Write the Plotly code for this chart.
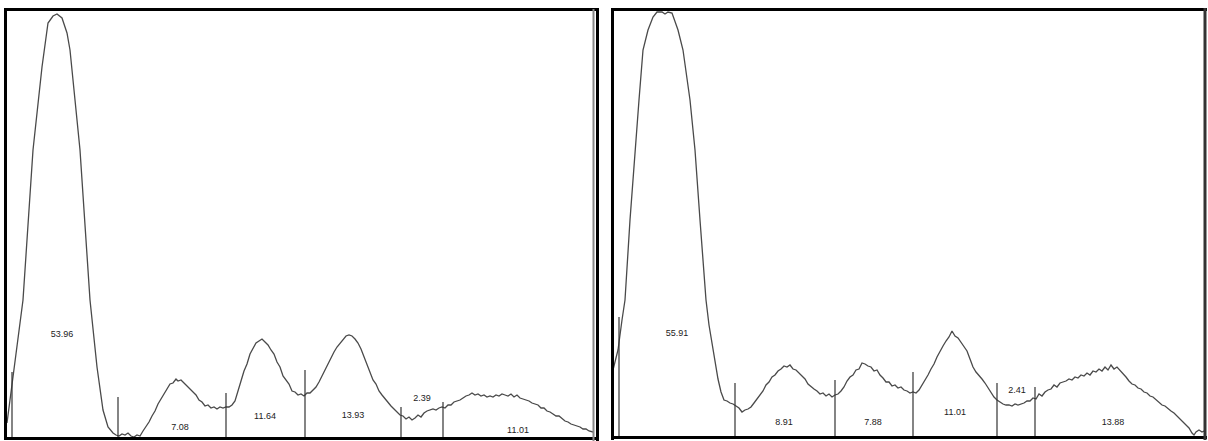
import plotly.graph_objects as go

W, H = 1208, 441

# ---------------- Data (position units along strip, absorbance units) ----------------
left_x = [1, 6, 10, 17, 27, 36, 42, 47, 51, 56, 61, 64, 69, 74, 84, 91, 97, 102,
          107, 110, 113, 116, 119, 122, 125, 128, 131, 134, 137, 140, 143, 146, 149, 152, 155, 158, 161, 164,
          167, 170, 172, 175, 178, 181, 184, 187, 190, 193, 196, 199, 202, 205, 208, 211, 214, 217, 220, 223,
          226, 229, 232, 235, 238, 241, 244, 247, 250, 253, 256, 259, 262, 265, 268, 271, 274, 277, 280, 283,
          286, 289, 292, 295, 298, 301, 304, 307, 310, 313, 316, 319, 322, 325, 328, 331, 334, 337, 340, 343,
          346, 349, 352, 355, 358, 361, 364, 367, 370, 373, 376, 379, 382, 385, 388, 391, 394, 397, 400, 403,
          406, 409, 412, 415, 418, 421, 424, 427, 430, 433, 436, 439, 442, 445, 448, 451, 454, 457, 460, 463,
          466, 469, 472, 475, 478, 481, 484, 487, 490, 493, 496, 499, 502, 505, 508, 511, 514, 517, 520, 523,
          526, 529, 532, 535, 538, 541, 544, 547, 550, 553, 556, 559, 562, 565, 568, 571, 574, 577, 580, 583, 587]
left_y = [15, 53, 88, 138, 288, 371, 415, 422, 424, 420, 405, 388, 338, 288, 138, 71, 28, 11,
          5, 3, 2, 4, 3, 5, 2, 1, 3, 2, 7, 11, 16, 22, 27, 34, 39, 45, 49, 54,
          55, 59, 57, 58, 55, 52, 50, 46, 43, 38, 36, 32, 33, 30, 31, 29, 31, 30, 31, 31,
          33, 37, 48, 57, 67, 74, 84, 90, 95, 97, 99, 96, 93, 88, 84, 76, 71, 62, 58, 54,
          47, 46, 43, 44, 42, 45, 45, 48, 51, 56, 62, 68, 75, 80, 86, 91, 95, 99, 102, 103,
          102, 99, 95, 89, 81, 73, 65, 58, 54, 47, 43, 39, 36, 32, 29, 26, 23, 22, 19, 21,
          18, 20, 23, 21, 25, 27, 28, 29, 28, 30, 31, 30, 33, 33, 36, 37, 38, 40, 42, 43,
          45, 43, 44, 42, 43, 41, 42, 41, 43, 42, 44, 43, 42, 44, 41, 43, 40, 39, 38, 37,
          35, 34, 33, 30, 30, 27, 26, 24, 22, 22, 19, 17, 16, 14, 13, 12, 11, 9, 9, 7, 6]

right_x = [1, 6, 10, 13, 18, 23, 27, 31, 36, 41, 45, 50, 53, 56, 60, 66, 71, 78, 83, 88,
           94, 97, 100, 103, 106, 109, 112, 115, 118, 121, 124, 127, 130, 133, 136, 139, 142, 145, 148, 151,
           154, 157, 160, 163, 166, 169, 172, 175, 178, 181, 184, 187, 190, 193, 196, 199, 202, 205, 208, 211,
           214, 217, 220, 223, 226, 229, 232, 235, 238, 241, 244, 247, 250, 253, 256, 259, 262, 265, 268, 271,
           274, 277, 280, 283, 286, 289, 292, 295, 298, 301, 304, 307, 310, 313, 316, 319, 322, 325, 328, 331,
           334, 337, 340, 343, 346, 349, 352, 355, 358, 361, 364, 367, 370, 373, 376, 379, 382, 385, 388, 391,
           394, 397, 400, 403, 406, 409, 412, 415, 418, 421, 424, 427, 430, 433, 436, 439, 442, 445, 448, 451,
           454, 457, 460, 463, 466, 469, 472, 475, 478, 481, 484, 487, 490, 493, 496, 499, 502, 505, 508, 511,
           514, 517, 520, 523, 526, 529, 532, 535, 538, 541, 544, 547, 550, 553, 556, 559, 562, 565, 568, 571,
           574, 577, 580, 582, 584, 587, 590, 592, 594]
right_y = [67, 87, 117, 137, 217, 287, 337, 387, 407, 420, 425, 425, 423, 425, 424, 407, 387, 337, 287, 217,
           137, 112, 94, 73, 58, 45, 37, 36, 34, 33, 31, 29, 25, 27, 28, 30, 34, 38, 43, 46,
           52, 55, 60, 62, 66, 68, 71, 70, 72, 68, 67, 64, 62, 58, 53, 50, 48, 46, 43, 44,
           41, 43, 40, 42, 43, 46, 50, 56, 60, 62, 67, 68, 74, 73, 71, 70, 66, 67, 62, 59,
           55, 55, 51, 52, 49, 50, 47, 46, 44, 45, 44, 47, 52, 56, 62, 68, 73, 80, 86, 91,
           96, 100, 106, 101, 99, 95, 91, 86, 78, 70, 65, 62, 58, 54, 49, 45, 40, 37, 35, 33,
           32, 32, 31, 33, 32, 33, 34, 36, 36, 39, 38, 43, 41, 45, 47, 48, 52, 50, 54, 55,
           56, 58, 57, 60, 59, 62, 61, 64, 62, 66, 65, 68, 66, 70, 67, 72, 68, 70, 67, 64,
           60, 56, 53, 52, 49, 48, 45, 44, 41, 40, 37, 35, 32, 31, 28, 26, 24, 21, 19, 16,
           12, 9, 4, 2, 5, 7, 5, 6, 4]

# fraction divider lines: position and height
left_div_x = [6, 112, 220, 299, 395, 437]
left_div_h = [66, 41, 45, 68, 31, 36]
right_div_x = [7, 123, 223, 301, 385, 423]
right_div_h = [120, 54, 57, 65, 54, 50]

# fraction percentages and label positions
left_labels = ["53.96", "7.08", "11.64", "13.93", "2.39", "11.01"]
left_lab_x = [56, 174, 259, 347, 416, 512]
left_lab_y = [103, 10, 21, 22, 39, 7]
right_labels = ["55.91", "8.91", "7.88", "11.01", "2.41", "13.88"]
right_lab_x = [65, 172, 261, 343, 405, 501]
right_lab_y = [103, 14, 14, 24, 46, 14]

CURVE = "#4a4a4a"
DIV = "#333333"

fig = go.Figure()


def add_panel(xs, ys, dx, dh, labs, lx, ly, xa, ya):
    fig.add_trace(go.Scatter(x=xs, y=ys, mode="lines", line=dict(color=CURVE, width=1.3),
                             xaxis=xa, yaxis=ya, showlegend=False, hoverinfo="skip"))
    vx, vy = [], []
    for x, h in zip(dx, dh):
        vx += [x, x, None]
        vy += [0, h, None]
    fig.add_trace(go.Scatter(x=vx, y=vy, mode="lines", line=dict(color=DIV, width=1.2),
                             xaxis=xa, yaxis=ya, showlegend=False, hoverinfo="skip"))
    fig.add_trace(go.Scatter(x=lx, y=ly, mode="text", text=labs,
                             textfont=dict(family="Liberation Sans Narrow, Liberation Sans, Arial", size=9,
                                           color="#222222"),
                             xaxis=xa, yaxis=ya, showlegend=False, hoverinfo="skip"))


add_panel(left_x, left_y, left_div_x, left_div_h, left_labels, left_lab_x, left_lab_y, "x", "y")
add_panel(right_x, right_y, right_div_x, right_div_h, right_labels, right_lab_x, right_lab_y, "x2", "y2")

ax = dict(showgrid=False, zeroline=False, showticklabels=False, ticks="", showline=False, fixedrange=True)


def px(x):
    return x / W


def py(y):
    return 1 - y / H


fig.update_layout(
    width=W, height=H, margin=dict(l=0, r=0, t=0, b=0),
    paper_bgcolor="white", plot_bgcolor="white",
    xaxis=dict(ax, domain=[px(6), px(593)], range=[0, 587]),
    yaxis=dict(ax, domain=[py(438), py(9)], range=[0, 429]),
    xaxis2=dict(ax, domain=[px(612), px(1206)], range=[0, 594]),
    yaxis2=dict(ax, domain=[py(437), py(9)], range=[0, 428]),
)

shapes = []


def seg(x0, y0, x1, y1, color="black", w=3):
    shapes.append(dict(type="line", xref="paper", yref="paper", x0=px(x0), y0=py(y0), x1=px(x1), y1=py(y1),
                       line=dict(color=color, width=w)))


# left panel frame
seg(5.5, 8, 5.5, 440)
seg(4, 9.5, 599, 9.5)
seg(4, 438.5, 599, 438.5)
seg(593.5, 9, 593.5, 441, color="#888888", w=2)
seg(597.5, 8, 597.5, 441)
# right panel frame
seg(612.5, 8, 612.5, 440)
seg(611, 9.5, 1207, 9.5)
seg(611, 437.5, 1207, 437.5)
seg(1205, 8, 1205, 440, color="#333333", w=3)

fig.update_layout(shapes=shapes)

fig.write_html("out.html", config={"displayModeBar": False},
               post_script="document.body.style.margin='0';document.body.style.overflow='hidden';")
